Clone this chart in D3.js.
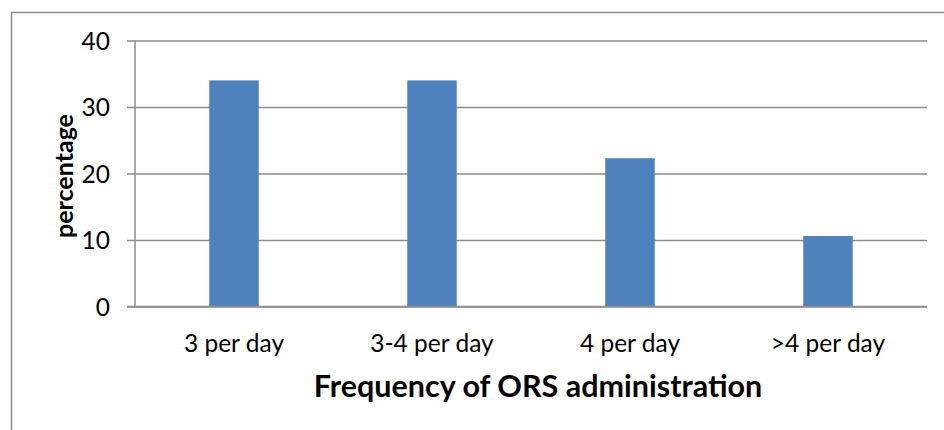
<!DOCTYPE html>
<html>
<head>
<meta charset="utf-8">
<script src="https://cdn.jsdelivr.net/npm/d3@7"></script>
<style>
  html, body { margin: 0; padding: 0; background: #fff; }
  text { font-family: Lato, "Open Sans", sans-serif; fill: #000; }
</style>
</head>
<body>
<div id="root"></div>
<script>
const categories = ['3 per day', '3-4 per day', '4 per day', '>4 per day'];
const percentages = [34, 34, 22.3, 10.6];
const yTicks = [0, 10, 20, 30, 40];

const svgWidth = 944;
const svgHeight = 430;
const margin = { top: 40.5, right: 17, bottom: 123.5, left: 135 };
const chartWidth = svgWidth - margin.left - margin.right;
const chartHeight = svgHeight - margin.top - margin.bottom;

const xScale = d3.scaleBand()
  .domain(categories)
  .range([0, chartWidth])
  .paddingInner(0.75)
  .paddingOuter(0.375);

const yScale = d3.scaleLinear()
  .domain([0, 40])
  .range([chartHeight, 0]);

const svg = d3.select('#root').append('svg')
  .attr('width', svgWidth)
  .attr('height', svgHeight);

// outer chart frame
svg.append('rect')
  .attr('x', 11.5)
  .attr('y', 12.5)
  .attr('width', svgWidth)
  .attr('height', svgHeight)
  .attr('fill', 'none')
  .attr('stroke', '#8c8c8c')
  .attr('stroke-width', 1.5);

const chart = svg.append('g')
  .attr('transform', `translate(${margin.left}, ${margin.top})`);

// gridlines with tick stubs
const yAxis = chart.append('g')
  .call(d3.axisLeft(yScale)
    .tickValues(yTicks)
    .tickSize(-chartWidth)
    .tickSizeOuter(0));

yAxis.select('.domain').remove();
yAxis.selectAll('.tick line')
  .attr('x1', -8)
  .attr('stroke', '#8c8c8c')
  .attr('stroke-width', 1.5);
yAxis.selectAll('.tick text')
  .attr('x', -25)
  .attr('dy', '0.36em')
  .attr('font-size', 24.5)
  .attr('font-family', 'Lato, "Open Sans", sans-serif');

chart.append('line')
  .attr('x1', 0)
  .attr('x2', 0)
  .attr('y1', 0)
  .attr('y2', chartHeight)
  .attr('stroke', '#8c8c8c')
  .attr('stroke-width', 1.5);

chart.selectAll('.bar')
  .data(categories)
  .enter()
  .append('rect')
  .attr('class', 'bar')
  .attr('x', d => xScale(d))
  .attr('width', xScale.bandwidth())
  .attr('y', (d, i) => yScale(percentages[i]))
  .attr('height', (d, i) => chartHeight - yScale(percentages[i]))
  .attr('fill', '#4f81bd');

// baseline over bars
chart.append('line')
  .attr('x1', -8)
  .attr('x2', chartWidth)
  .attr('y1', chartHeight)
  .attr('y2', chartHeight)
  .attr('stroke', '#8c8c8c')
  .attr('stroke-width', 1.5);

chart.selectAll('.xlabel')
  .data(categories)
  .enter()
  .append('text')
  .attr('class', 'xlabel')
  .attr('x', d => xScale(d) + xScale.bandwidth() / 2)
  .attr('y', chartHeight + 45.5)
  .attr('text-anchor', 'middle')
  .attr('font-size', 24.5)
  .text(d => d);

svg.append('text')
  .attr('x', 538)
  .attr('y', 396.5)
  .attr('text-anchor', 'middle')
  .attr('font-size', 30.5)
  .attr('font-weight', 'bold')
  .text('Frequency of ORS administration');

svg.append('text')
  .attr('transform', `translate(72.5, 176) rotate(-90)`)
  .attr('text-anchor', 'middle')
  .attr('font-size', 25)
  .attr('font-weight', 'bold')
  .text('percentage');
</script>
</body>
</html>
